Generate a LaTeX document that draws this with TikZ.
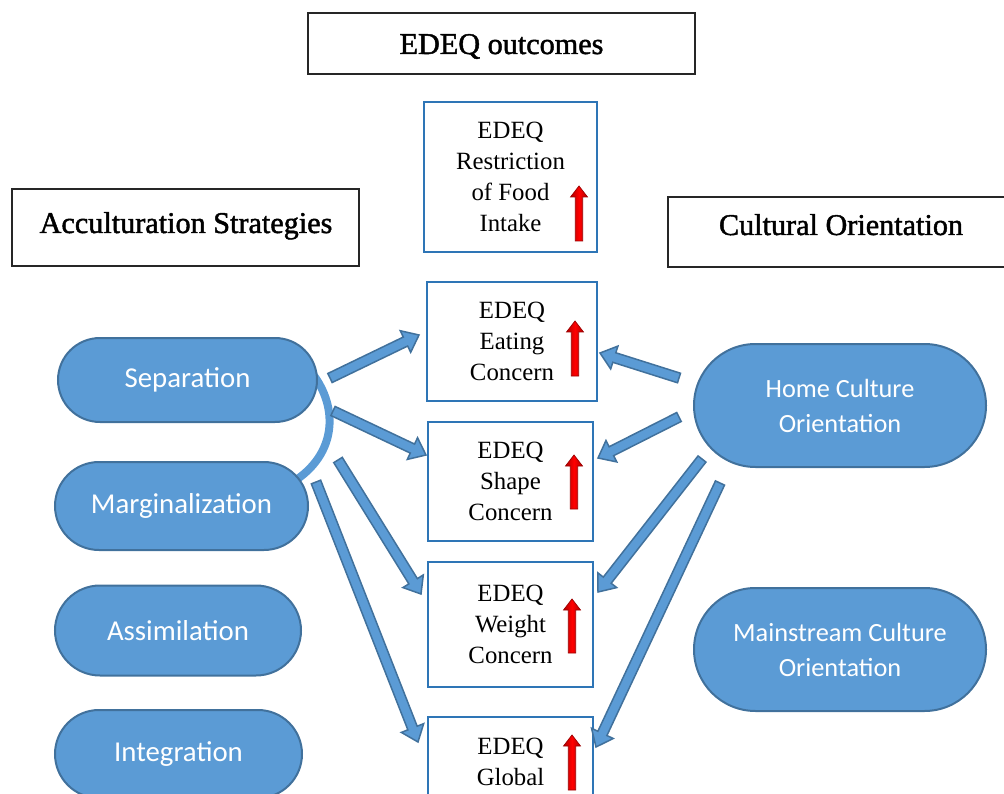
\documentclass[tikz,border=0pt]{standalone}
\usepackage{fontspec}
\setmainfont{Liberation Serif}
\newfontfamily\pillfont{Carlito}
\newfontfamily\titlefont{Liberation Serif}[FakeBold=1.5]
\usetikzlibrary{calc,shapes.misc}

\definecolor{pillfill}{HTML}{5B9BD5}
\definecolor{pillline}{HTML}{41719C}
\definecolor{boxline}{HTML}{2E75B6}
\definecolor{redline}{HTML}{9C0000}

\tikzset{
  titlebox/.style={draw=black!85, line width=2pt, rectangle, inner sep=0pt},
  titletext/.style={font=\titlefont\fontsize{30.2}{36}\selectfont, inner sep=0pt, anchor=base},
  pill/.style={rounded rectangle, draw=pillline, fill=pillfill, line width=2pt,
    text=white, inner sep=0pt, align=center},
  pilltext/.style={font=\pillfont\fontsize{28.8}{35}\selectfont},
  pilltwo/.style={font=\pillfont\fontsize{26.3}{35}\selectfont},
  outbox/.style={draw=boxline, line width=2pt, rectangle, fill=white, inner sep=0pt,
    align=center, font=\fontsize{24.8}{31}\selectfont},
  blockarr/.style={draw=pillline, fill=pillfill, line width=1.5pt, line join=miter},
  redarrow/.style={draw=redline, line width=0.7pt, left color=red!70!black,
    right color=red!70!black, middle color=red},
  linkarc/.style={draw=pillfill, line width=8pt}
}

% a wide filled arrow from #1 to #2
\newcommand\blockarrow[2]{%
  \draw[blockarr] let \p1=(#1), \p2=(#2), \p3=($(#2)-(#1)$),
      \n1={atan2(\y3,\x3)}, \n2={veclen(\x3,\y3)} in
    ($(\p1)+(\n1+90:5pt)$)
    -- ($(\p1)+(\n1:\n2-15pt)+(\n1+90:5pt)$)
    -- ($(\p1)+(\n1:\n2-15pt)+(\n1+90:12pt)$)
    -- (\p2)
    -- ($(\p1)+(\n1:\n2-15pt)+(\n1-90:12pt)$)
    -- ($(\p1)+(\n1:\n2-15pt)+(\n1-90:5pt)$)
    -- ($(\p1)+(\n1-90:5pt)$) -- cycle;}

% small red upward arrow: x, top y, bottom y
\newcommand\redup[3]{%
  \draw[redarrow] (#1-3.7,#3) -- (#1-3.7,#2+11) -- (#1-8.5,#2+11) -- (#1,#2)
    -- (#1+8.5,#2+11) -- (#1+3.7,#2+11) -- (#1+3.7,#3) -- cycle;}

\begin{document}
\begin{tikzpicture}[x=1pt,y=-1pt]
\useasboundingbox (0,0) rectangle (1004,794);
\clip (0,0) rectangle (1004,794);

% headings
\node[titlebox, minimum width=387pt, minimum height=61pt] (outTitle) at (501.5,43.3) {};
\node[titletext] (outTitleTxt) at (501.5,54) {EDEQ outcomes};
\node[titlebox, minimum width=347pt, minimum height=77pt] (accTitle) at (185.3,227.8) {};
\node[titletext] (accTitleTxt) at (186,233) {Acculturation Strategies};
\node[titlebox, minimum width=342pt, minimum height=70pt] (culTitle) at (839,232) {};
\node[titletext] (culTitleTxt) at (841,235) {Cultural Orientation};

% bracket linking separation and marginalization
\draw[linkarc] (306,366) .. controls (338,400) and (340,450) .. (296,480);

% acculturation strategies
\node[pill, minimum width=259pt, minimum height=84pt, pilltext] (sep) at (187.5,380) {Separation};
\node[pill, minimum width=253pt, minimum height=88pt, pilltext] (mar) at (181.5,506) {Marginalization};
\node[pill, minimum width=246pt, minimum height=90pt, pilltext] (ass) at (178,630.5) {Assimilation};
\node[pill, minimum width=247pt, minimum height=88pt, pilltext] (int) at (178.5,754) {Integration};

% cultural orientation
\node[pill, minimum width=292pt, minimum height=123pt, pilltwo] (home) at (840,405.5) {Home Culture\\Orientation};
\node[pill, minimum width=292pt, minimum height=123pt, pilltwo] (main) at (840,649.5) {Mainstream Culture\\Orientation};

% outcome boxes
\node[outbox, minimum width=173pt, minimum height=150pt] (restr) at (510.5,177) {EDEQ\\Restriction\\of Food\\Intake};
\node[outbox, minimum width=170pt, minimum height=119pt] (eat) at (512,341.5) {EDEQ\\Eating\\Concern};
\node[outbox, minimum width=165pt, minimum height=119pt] (shape) at (510.5,481.5) {EDEQ\\Shape\\Concern};
\node[outbox, minimum width=165pt, minimum height=125pt] (weight) at (510.5,624.5) {EDEQ\\Weight\\Concern};
\node[outbox, minimum width=165pt, minimum height=89pt] (glob) at (510.5,761.5) {EDEQ\\Global};

% increase markers
\redup{579}{186}{241}
\redup{575}{321}{376}
\redup{574}{455}{509}
\redup{572}{599}{653}
\redup{572}{735}{790}

% arrow end points
\coordinate (sepA) at (330,378);   \coordinate (eatL) at (419,335);
\coordinate (sepB) at (333,411);   \coordinate (shapeL) at (426,455);
\coordinate (marA) at (338,460);   \coordinate (weightL) at (421,594);
\coordinate (marB) at (316,482);   \coordinate (globL) at (418,742);
\coordinate (homeA) at (679,378);  \coordinate (eatR) at (600,353);
\coordinate (homeB) at (679,417);  \coordinate (shapeR) at (598,458);
\coordinate (homeC) at (702,459);  \coordinate (weightR) at (598,592);
\coordinate (homeD) at (720,483);  \coordinate (globR) at (596,747);

\blockarrow{sepA}{eatL}
\blockarrow{sepB}{shapeL}
\blockarrow{marA}{weightL}
\blockarrow{marB}{globL}
\blockarrow{homeA}{eatR}
\blockarrow{homeB}{shapeR}
\blockarrow{homeC}{weightR}
\blockarrow{homeD}{globR}
\end{tikzpicture}
\end{document}
